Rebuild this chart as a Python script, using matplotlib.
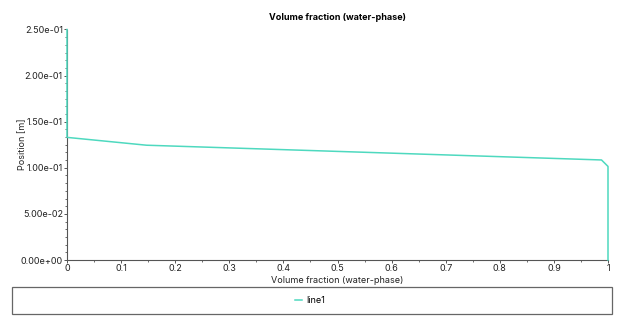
import matplotlib
matplotlib.use("Agg")
import matplotlib.pyplot as plt
from matplotlib.patches import Rectangle
from matplotlib.ticker import MultipleLocator, AutoMinorLocator, FormatStrFormatter

# volume fraction of water along the vertical line
vof = [0.0, 0.0, 0.147, 0.988, 1.0, 1.0]
position = [0.25, 0.133, 0.1245, 0.1085, 0.1015, 0.0]

x_ticks = [0, 0.1, 0.2, 0.3, 0.4, 0.5, 0.6, 0.7, 0.8, 0.9, 1]
x_labels = ['0', '0.1', '0.2', '0.3', '0.4', '0.5', '0.6', '0.7', '0.8', '0.9', '1']

plt.rcParams['font.family'] = ['Inter', 'DejaVu Sans']

W, H = 624, 327
fig = plt.figure(figsize=(W / 100, H / 100), dpi=100)
fig.patch.set_facecolor('white')

# axes box in pixels: x 67..608, y 29..260
ax = fig.add_axes([67 / W, 1 - 260 / H, (608 - 67) / W, (260 - 29.5) / H])

line_color = '#4ed9bf'
ax.plot(vof, position, color=line_color, lw=1.1, label='line1',
        clip_on=False, zorder=5)

ax.set_xlim(0, 1)
ax.set_ylim(0, 0.25)
ax.set_xticks(x_ticks)
ax.set_xticklabels(x_labels)
ax.xaxis.set_minor_locator(MultipleLocator(0.05))
ax.yaxis.set_major_locator(MultipleLocator(0.05))
ax.yaxis.set_minor_locator(AutoMinorLocator(6))
ax.yaxis.set_major_formatter(FormatStrFormatter('%.2e'))

for s in ['top', 'right']:
    ax.spines[s].set_visible(False)
for s in ['left', 'bottom']:
    ax.spines[s].set_color('#555555')
    ax.spines[s].set_linewidth(0.8)

ax.tick_params(which='major', length=2.5, width=0.7, color='#555555',
               labelsize=6.5, labelcolor='#222222', pad=0.5)
ax.tick_params(which='minor', length=1.5, width=0.6, color='#555555')

ax.set_xlabel('Volume fraction (water-phase)', fontsize=6.5, color='#222222', labelpad=2)
ax.set_ylabel('Position [m]', fontsize=6.5, color='#222222')
ax.yaxis.set_label_coords((27 - 67) / 541, 0.5)
fig.text(0.5 * (67 + 608) / W, 1 - 17 / H, 'Volume fraction (water-phase)',
         ha='center', va='center', fontsize=6.5, fontweight='bold')

# legend box below the plot
fig.patches.append(Rectangle((12 / W, 1 - 314 / H), 600 / W, 27 / H,
                             transform=fig.transFigure, fill=False,
                             edgecolor='#666666', lw=0.9))
handles, labels = ax.get_legend_handles_labels()
fig.legend(handles, labels, loc='center', bbox_to_anchor=(310 / W, 1 - 300.5 / H),
           frameon=False, fontsize=6.5, handlelength=0.8, handletextpad=0.5)

fig.savefig('out.png', dpi=100)
